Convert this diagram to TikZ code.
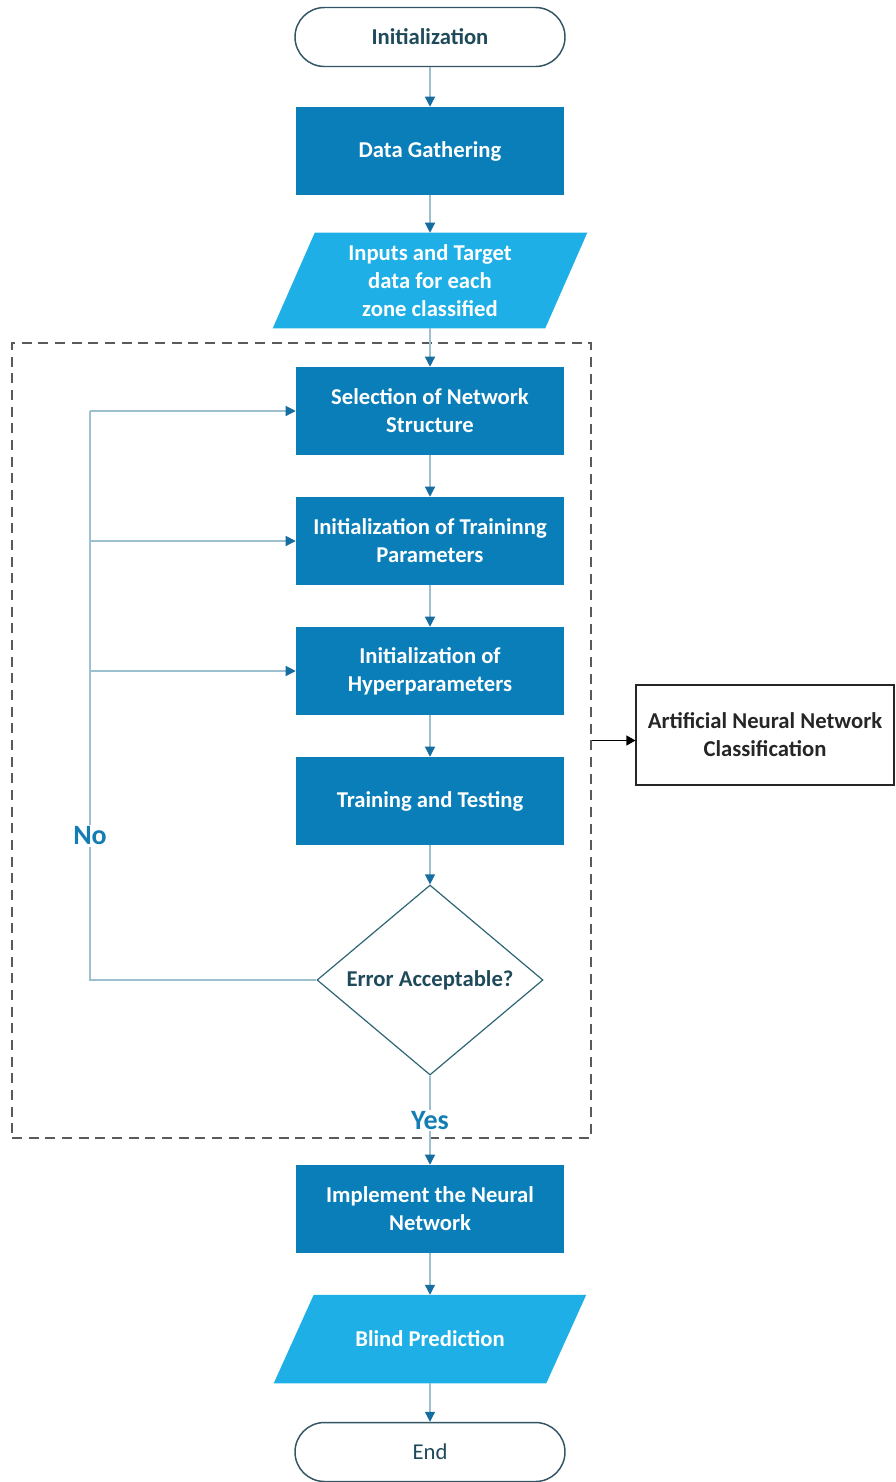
\documentclass[tikz,border=0pt]{standalone}
\usepackage{fontspec}
\setmainfont{Carlito}
\usetikzlibrary{arrows.meta,shapes.geometric,backgrounds}
\newlength\pxu
\setlength\pxu{0.75pt}
\definecolor{procblue}{HTML}{0A7EB9}
\definecolor{ioblue}{HTML}{1EAFE6}
\definecolor{linkblue}{HTML}{9DBFCF}
\definecolor{tipblue}{HTML}{146EA0}
\definecolor{termline}{HTML}{325564}
\definecolor{termtext}{HTML}{1F4A5A}
\definecolor{decline}{HTML}{2E6475}
\definecolor{branchtext}{HTML}{147DB4}
\definecolor{groupline}{HTML}{5A5A5A}
\tikzset{
  basefont/.style={font=\fontsize{17}{21}\selectfont\bfseries},
  terminal/.style={basefont, draw=termline, line width=1.1pt, rounded corners=29.5\pxu,
    minimum width=270\pxu, minimum height=59\pxu, inner sep=0pt, text=termtext},
  process/.style={basefont, fill=procblue, text=white, minimum width=268\pxu,
    minimum height=88\pxu, inner sep=0pt, align=center},
  iobox/.style={basefont, text=white, minimum width=272\pxu, inner sep=0pt, align=center},
  decision/.style={basefont, diamond, draw=decline, line width=0.9pt, minimum width=226\pxu,
    minimum height=190\pxu, inner sep=0pt, text=termtext},
  branch/.style={font=\fontsize{21}{24}\selectfont\bfseries, text=branchtext, fill=white,
    inner sep=1pt},
  link/.style={draw=linkblue, line width=0.9pt},
  flow/.style={link, -{Triangle[width=7.5pt,length=7.5pt,color=tipblue]}},
  outline/.style={basefont, draw=black!85, line width=0.8pt, minimum width=258\pxu,
    minimum height=100\pxu, inner sep=0pt, align=center, text=black!85},
  group/.style={draw=groupline, line width=1.3pt, dash pattern=on 7.5pt off 5pt,
    minimum width=579\pxu, minimum height=795\pxu, inner sep=0pt},
}
\begin{document}
\begin{tikzpicture}[x=0.75pt, y=-0.75pt]
\useasboundingbox (0,0) rectangle (896,1482);

% dashed grouping frame of the training loop
\node[group] (grp) at (301.5,740.5) {};

% main column
\node[terminal] (init) at (430,37) {Initialization};
\node[process] (gather) at (430,151) {Data Gathering};
\node[iobox, minimum height=95\pxu] (inp) at (430,280.5) {Inputs and Target\\data for each\\zone classified};
\node[process] (sel) at (430,411) {Selection of Network\\Structure};
\node[process] (tpar) at (430,541) {Initialization of Traininng\\Parameters};
\node[process] (hyp) at (430,671) {Initialization of\\Hyperparameters};
\node[process] (tt) at (430,801) {Training and Testing};
\node[decision] (dec) at (430,980) {Error Acceptable?};
\node[process] (impl) at (430,1209) {Implement the Neural\\Network};
\node[iobox, minimum height=88\pxu] (blind) at (430,1339) {Blind Prediction};
\node[terminal, font=\fontsize{17}{21}\selectfont] (fin) at (430,1452) {End};

% side note
\node[outline] (ann) at (765,735) {Artificial Neural Network\\Classification};

% slanted data boxes behind their text
\begin{scope}[on background layer]
  \fill[ioblue] ([xshift=21\pxu]inp.north west) -- ([xshift=21\pxu]inp.north east)
    -- ([xshift=-21\pxu]inp.south east) -- ([xshift=-21\pxu]inp.south west) -- cycle;
  \fill[ioblue] ([xshift=20\pxu]blind.north west) -- ([xshift=20\pxu]blind.north east)
    -- ([xshift=-20\pxu]blind.south east) -- ([xshift=-20\pxu]blind.south west) -- cycle;
\end{scope}

% forward flow
\draw[flow] (init) -- (gather);
\draw[flow] (gather) -- (inp);
\draw[flow] (inp) -- (sel);
\draw[flow] (sel) -- (tpar);
\draw[flow] (tpar) -- (hyp);
\draw[flow] (hyp) -- (tt);
\draw[flow] (tt) -- (dec);
\draw[flow] (dec) -- node[branch, pos=0.5] {Yes} (impl);
\draw[flow] (impl) -- (blind);
\draw[flow] (blind) -- (fin);

% retry loop
\coordinate (loopbot) at (90,980);
\coordinate (looptop) at (90,411);
\draw[link] (dec.west) -- (loopbot) -- (looptop);
\draw[flow] (looptop) -- (sel.west);
\draw[flow] (looptop |- tpar.west) -- (tpar.west);
\draw[flow] (looptop |- hyp.west) -- (hyp.west);
\node[branch] (no) at (90,836) {No};

% frame to side note
\draw[line width=0.8pt, -{Triangle[width=7.5pt,length=6.75pt]}] (grp.east) -- (grp.east -| ann.west);
\end{tikzpicture}
\end{document}
